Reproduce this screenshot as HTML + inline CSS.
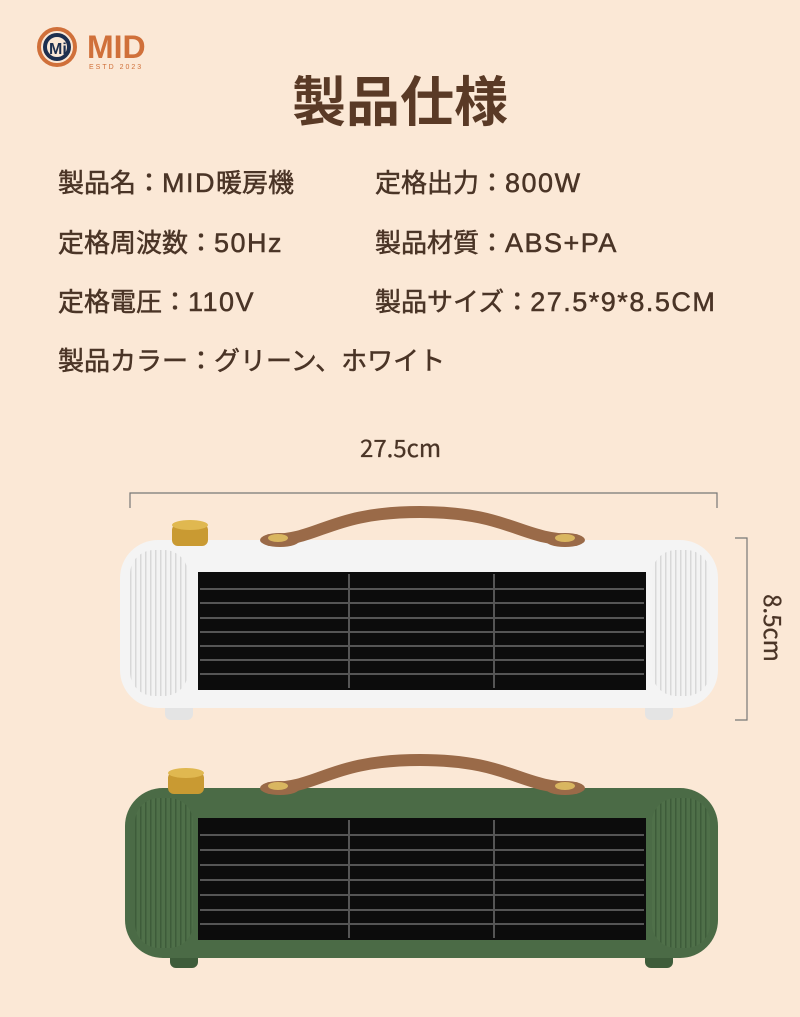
<!DOCTYPE html>
<html><head><meta charset="utf-8"><style>
body{margin:0;width:800px;height:1017px;background:#fbe8d6;position:relative;overflow:hidden;font-family:"Noto Sans CJK JP","Liberation Sans",sans-serif;}
.t{position:absolute;color:#4a3426;font-size:26px;line-height:30px;white-space:nowrap;-webkit-text-stroke:0.5px #4a3426;}
.t b{font-family:"Liberation Sans",sans-serif;font-weight:normal;font-size:27px;letter-spacing:1.5px;}
</style></head><body>
<svg width="800" height="1017" style="position:absolute;left:0;top:0">
<defs>
<pattern id="rw" width="5" height="10" patternUnits="userSpaceOnUse"><rect width="5" height="10" fill="#f3f3f3"/><rect width="1.5" height="10" fill="#d8d8d8"/></pattern>
<pattern id="rg" width="5" height="10" patternUnits="userSpaceOnUse"><rect width="5" height="10" fill="#4f7049"/><rect width="1.5" height="10" fill="#3e5c3a"/></pattern>
</defs>
<circle cx="57" cy="47" r="18" fill="none" stroke="#d0703a" stroke-width="4"/>
<circle cx="57" cy="47" r="12" fill="none" stroke="#1d2f4f" stroke-width="4"/>
<text x="49" y="54" font-size="16" font-weight="bold" fill="#1d2f4f" font-family="Liberation Sans">Mi</text>
<text x="87" y="58" font-size="32" font-weight="bold" fill="#d0703a" font-family="Liberation Sans">MID</text>
<text x="89" y="69" font-size="7" fill="#d0703a" letter-spacing="2" font-family="Liberation Sans">ESTD 2023</text>
<path d="M130,508 V493 H717 V508" fill="none" stroke="#777" stroke-width="1.2"/>
<path d="M735,538 H747 V720 H735" fill="none" stroke="#777" stroke-width="1.2"/>
<rect x="165" y="700" width="28" height="20" rx="6" fill="#e4e4e4"/>
<rect x="645" y="700" width="28" height="20" rx="6" fill="#e4e4e4"/>
<rect x="120" y="540" width="598" height="168" rx="38" fill="#f4f4f4"/>
<rect x="130" y="550" width="58" height="146" rx="24" fill="url(#rw)"/>
<rect x="652" y="550" width="58" height="146" rx="24" fill="url(#rw)"/>
<rect x="198" y="572" width="448" height="118" fill="#0c0c0c"/>
<g stroke="#555" stroke-width="2">
<line x1="200" y1="589" x2="644" y2="589"/><line x1="200" y1="603" x2="644" y2="603"/><line x1="200" y1="618" x2="644" y2="618"/><line x1="200" y1="632" x2="644" y2="632"/><line x1="200" y1="646" x2="644" y2="646"/><line x1="200" y1="660" x2="644" y2="660"/><line x1="200" y1="674" x2="644" y2="674"/>
<line x1="349" y1="574" x2="349" y2="688"/><line x1="494" y1="574" x2="494" y2="688"/></g>
<rect x="172" y="524" width="36" height="22" rx="6" fill="#c99a32"/><ellipse cx="190" cy="525" rx="18" ry="5" fill="#e0b850"/>
<path d="M270,540 C320,540 330,512 420,512 C510,512 520,540 575,540" fill="none" stroke="#9a6a48" stroke-width="12" stroke-linecap="round"/>
<ellipse cx="280" cy="540" rx="20" ry="7" fill="#9a6a48"/><ellipse cx="565" cy="540" rx="20" ry="7" fill="#9a6a48"/>
<ellipse cx="278" cy="538" rx="10" ry="4" fill="#d9b660"/><ellipse cx="565" cy="538" rx="10" ry="4" fill="#d9b660"/>
<rect x="170" y="950" width="28" height="18" rx="6" fill="#3e5c3a"/>
<rect x="645" y="950" width="28" height="18" rx="6" fill="#3e5c3a"/>
<rect x="125" y="788" width="593" height="170" rx="38" fill="#4b6b46"/>
<rect x="135" y="798" width="58" height="150" rx="24" fill="url(#rg)"/>
<rect x="652" y="798" width="58" height="150" rx="24" fill="url(#rg)"/>
<rect x="198" y="818" width="448" height="122" fill="#0c0c0c"/>
<g stroke="#555" stroke-width="2">
<line x1="200" y1="835" x2="644" y2="835"/><line x1="200" y1="850" x2="644" y2="850"/><line x1="200" y1="865" x2="644" y2="865"/><line x1="200" y1="880" x2="644" y2="880"/><line x1="200" y1="895" x2="644" y2="895"/><line x1="200" y1="910" x2="644" y2="910"/><line x1="200" y1="924" x2="644" y2="924"/>
<line x1="349" y1="820" x2="349" y2="938"/><line x1="494" y1="820" x2="494" y2="938"/></g>
<rect x="168" y="772" width="36" height="22" rx="6" fill="#c99a32"/><ellipse cx="186" cy="773" rx="18" ry="5" fill="#e0b850"/>
<path d="M270,788 C320,788 330,760 420,760 C510,760 520,788 575,788" fill="none" stroke="#9a6a48" stroke-width="12" stroke-linecap="round"/>
<ellipse cx="280" cy="788" rx="20" ry="7" fill="#9a6a48"/><ellipse cx="565" cy="788" rx="20" ry="7" fill="#9a6a48"/>
<ellipse cx="278" cy="786" rx="10" ry="4" fill="#d9b660"/><ellipse cx="565" cy="786" rx="10" ry="4" fill="#d9b660"/>
</svg>
<div class="t" style="left:0;width:800px;text-align:center;top:66px;font-size:54px;line-height:64px;font-weight:bold;color:#5a3a26;-webkit-text-stroke:0;">製品仕様</div>
<div class="t" style="left:58px;top:167px">製品名：<b>MID</b>暖房機</div>
<div class="t" style="left:375px;top:167px">定格出力：<b>800W</b></div>
<div class="t" style="left:58px;top:227px">定格周波数：<b>50Hz</b></div>
<div class="t" style="left:375px;top:227px">製品材質：<b>ABS+PA</b></div>
<div class="t" style="left:58px;top:286px">定格電圧：<b>110V</b></div>
<div class="t" style="left:375px;top:286px">製品サイズ：<b>27.5*9*8.5CM</b></div>
<div class="t" style="left:58px;top:345px">製品カラー：グリーン、ホワイト</div>
<div class="t" style="left:360px;top:432px;font-size:24px;-webkit-text-stroke:0.3px #4a3426;">27.5cm</div>
<div class="t" style="left:740px;top:613px;font-size:24px;transform:rotate(90deg);transform-origin:center;-webkit-text-stroke:0.3px #4a3426;">8.5cm</div>
</body></html>
